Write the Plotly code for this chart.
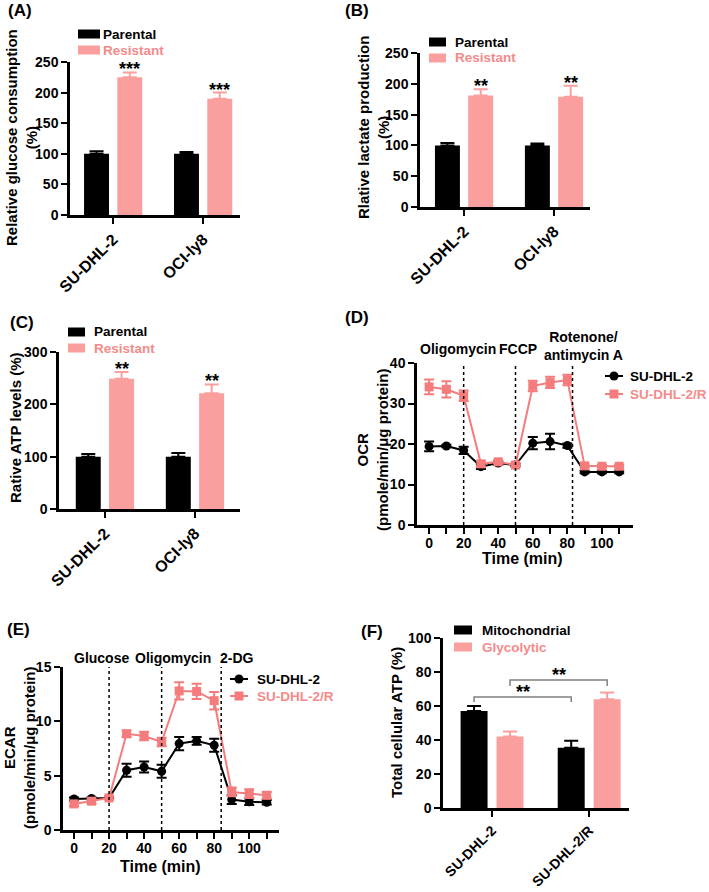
import plotly.graph_objects as go

W, H = 709, 892
def fx(p): return p / W
def fy(p): return 1 - p / H

# ---------------- data ----------------
cells = ["SU-DHL-2", "OCI-ly8"]
glucose_par = [100, 100]; glucose_par_err = [4, 3]
glucose_res = [225, 190]; glucose_res_err = [8, 10]
lactate_par = [100, 100]; lactate_par_err = [4, 3]
lactate_res = [181, 179]; lactate_res_err = [10, 18]
atp_par = [100, 100]; atp_par_err = [5, 7]
atp_res = [249, 221]; atp_res_err = [13, 17]
stars_A = ["***", "***"]; stars_B = ["**", "**"]; stars_C = ["**", "**"]

time = [0, 10, 20, 30, 40, 50, 60, 70, 80, 90, 100, 110]
ocr_wt = [19.4, 19.5, 18.4, 14.4, 15.3, 14.8, 20.2, 20.6, 19.6, 13.1, 13.1, 13.1]
ocr_wt_err = [1.2, 0.3, 0.9, 0.6, 0.4, 0.3, 1.5, 1.9, 0.5, 0.3, 0.3, 0.3]
ocr_r = [34.1, 33.5, 31.9, 15.1, 15.6, 14.8, 34.3, 35.2, 35.8, 14.6, 14.5, 14.5]
ocr_r_err = [1.8, 2.0, 1.3, 0.7, 0.4, 0.5, 1.3, 1.4, 1.3, 0.4, 0.3, 0.3]
ocr_injections = [20, 50, 83]
ocr_labels = ["Oligomycin", "FCCP", "Rotenone/<br>antimycin A"]

ecar_wt = [2.85, 2.9, 2.95, 5.5, 5.8, 5.4, 7.95, 8.2, 7.8, 2.8, 2.6, 2.55]
ecar_wt_err = [0.15, 0.1, 0.1, 0.6, 0.5, 0.6, 0.6, 0.35, 0.6, 0.4, 0.3, 0.2]
ecar_r = [2.4, 2.65, 2.95, 8.85, 8.65, 8.1, 12.8, 12.75, 11.9, 3.5, 3.35, 3.2]
ecar_r_err = [0.2, 0.2, 0.15, 0.3, 0.4, 0.4, 0.8, 0.7, 0.8, 0.4, 0.4, 0.3]
ecar_injections = [20, 50, 84]
ecar_labels = ["Glucose", "Oligomycin", "2-DG"]

atp_groups = ["SU-DHL-2", "SU-DHL-2/R"]
mito = [57, 35.5]; mito_err = [3, 4]
glyco = [42, 64]; glyco_err = [3, 4]

# ---------------- style ----------------
BLACK = "#000000"
PINK_BAR = "#FA9E9E"
PINK_TXT = "#F58A8A"
PINK_LINE = "#F47C7C"
FONT = "Liberation Sans, Arial, sans-serif"
BARGAP, BARGROUPGAP = 0.26, 0.25
SLOT = (1 - BARGAP) / 2
OFF = SLOT / 2

def bfont(size, color=BLACK):
    return dict(family=FONT, size=size, color=color, weight="bold")

fig = go.Figure()

def add_bar_panel(n, cats, par, par_err, res, res_err, name1, name2):
    xa = f"x{n}" if n > 1 else "x"
    ya = f"y{n}" if n > 1 else "y"
    fig.add_trace(go.Bar(x=cats, y=par, name=name1, marker=dict(color=BLACK, line=dict(width=0)),
                         error_y=dict(type="data", array=par_err, arrayminus=[0]*len(par), symmetric=False,
                                      color=BLACK, thickness=2, width=7),
                         xaxis=xa, yaxis=ya, showlegend=False))
    fig.add_trace(go.Bar(x=cats, y=res, name=name2, marker=dict(color=PINK_BAR, line=dict(width=0)),
                         error_y=dict(type="data", array=res_err, arrayminus=[0]*len(res), symmetric=False,
                                      color=PINK_BAR, thickness=2, width=7),
                         xaxis=xa, yaxis=ya, showlegend=False))

add_bar_panel(1, cells, glucose_par, glucose_par_err, glucose_res, glucose_res_err, "Parental", "Resistant")
add_bar_panel(2, cells, lactate_par, lactate_par_err, lactate_res, lactate_res_err, "Parental", "Resistant")
add_bar_panel(3, cells, atp_par, atp_par_err, atp_res, atp_res_err, "Parental", "Resistant")
add_bar_panel(6, atp_groups, mito, mito_err, glyco, glyco_err, "Mitochondrial", "Glycolytic")

def add_line_panel(n, t, wt, wt_err, r, r_err):
    fig.add_trace(go.Scatter(x=t, y=wt, mode="lines+markers", name="SU-DHL-2",
                             line=dict(color=BLACK, width=2), marker=dict(symbol="circle", size=9, color=BLACK),
                             error_y=dict(type="data", array=wt_err, color=BLACK, thickness=2, width=5),
                             xaxis=f"x{n}", yaxis=f"y{n}", showlegend=False))
    fig.add_trace(go.Scatter(x=t, y=r, mode="lines+markers", name="SU-DHL-2/R",
                             line=dict(color=PINK_LINE, width=2), marker=dict(symbol="square", size=9, color=PINK_LINE),
                             error_y=dict(type="data", array=r_err, color=PINK_LINE, thickness=2, width=5),
                             xaxis=f"x{n}", yaxis=f"y{n}", showlegend=False))

add_line_panel(4, time, ocr_wt, ocr_wt_err, ocr_r, ocr_r_err)
add_line_panel(5, time, ecar_wt, ecar_wt_err, ecar_r, ecar_r_err)

# ---------------- axes ----------------
tickfont = bfont(14)
catfont = bfont(16)

def ax_common():
    return dict(showline=True, linewidth=2.5, linecolor=BLACK, ticks="outside", ticklen=6,
                tickwidth=2, tickcolor=BLACK, showgrid=False, zeroline=False, tickfont=tickfont,
                automargin=False)

panels = {
    # n: (x0, x1, ytop, ybot) in pixels
    1: (70, 240, 62, 215),
    2: (420, 590, 53, 207),
    3: (59, 240, 352, 509),
    4: (417, 633, 363, 525),
    5: (63, 279, 667, 830),
    6: (443, 629, 638, 808),
}
xranges = {1: [-0.48, 1.41], 2: [-0.49, 1.4], 3: [-0.51, 1.5], 4: [-7, 118], 5: [-6.3, 117], 6: [-0.505, 1.41]}
yranges = {1: [0, 250], 2: [0, 250], 3: [0, 300], 4: [0, 40], 5: [0, 15], 6: [0, 100]}
ydticks = {1: 50, 2: 50, 3: 100, 4: 10, 5: 5, 6: 20}

layout = {}
for n, (x0, x1, yt, yb) in panels.items():
    kx = "xaxis" if n == 1 else f"xaxis{n}"
    ky = "yaxis" if n == 1 else f"yaxis{n}"
    xa = ax_common()
    xa.update(domain=[fx(x0), fx(x1)], range=xranges[n], anchor="y" if n == 1 else f"y{n}")
    if n in (4, 5):
        xa.update(tickvals=time, ticktext=[str(t) if t % 20 == 0 else "" for t in time],
                  ticklabelstandoff=-3)
    else:
        xa.update(type="category", tickangle=-45, tickfont=catfont if n != 6 else bfont(14))
    ya = ax_common()
    ya.update(domain=[fy(yb), fy(yt)], range=yranges[n], dtick=ydticks[n],
              anchor="x" if n == 1 else f"x{n}")
    layout[kx] = xa
    layout[ky] = ya

fig.update_layout(**layout)

# ---------------- annotations / shapes ----------------
ann = []
shapes = []

def txt(text, x, y, size, color=BLACK, xanchor="center", yanchor="middle", angle=0):
    ann.append(dict(text=text, x=fx(x), y=fy(y), xref="paper", yref="paper", xanchor=xanchor,
                    yanchor=yanchor, showarrow=False, textangle=angle, font=bfont(size, color),
                    align="center"))

# panel labels
for lbl, (px_, py_) in {"(A)": (6, 10), "(B)": (343, 10), "(C)": (8, 322), "(D)": (343, 317),
                         "(E)": (5, 629), "(F)": (359, 631)}.items():
    txt(lbl, px_, py_, 17, xanchor="left")

# axis titles
ytitles = [
    ("Relative glucose consumption<br>(%)", 21, 138),
    ("Rlative lactate production<br>(%)", 373, 127),
    ("Rative ATP levels (%)", 15, 428),
    ("OCR<br>(pmole/min/μg protein)", 372, 450),
    ("ECAR<br>(pmole/min/μg protein)", 19, 748),
    ("Total cellular ATP (%)", 396, 723),
]
for t, x, y in ytitles:
    txt(t, x, y, 15, angle=-90)
txt("Time (min)", 522, 558, 16)
txt("Time (min)", 160, 866, 16)

# legends (drawn as key swatches + labels)
def bar_key(x0, x1, ytxt, xt, color, label, tcolor):
    shapes.append(dict(type="rect", xref="paper", yref="paper", x0=fx(x0), x1=fx(x1),
                       y0=fy(ytxt + 4.5), y1=fy(ytxt - 4.5), fillcolor=color, line=dict(width=0)))
    txt(label, xt - 2, ytxt, 13.5, tcolor, xanchor="left")

for (kx0, kx1, tx, y1, y2, l1, l2) in [
        (78, 100, 103, 34, 50, "Parental", "Resistant"),
        (429, 446, 455, 42, 58, "Parental", "Resistant"),
        (68, 85, 94, 332, 348, "Parental", "Resistant"),
        (454, 472, 482, 630, 647, "Mitochondrial", "Glycolytic")]:
    bar_key(kx0, kx1, y1, tx, BLACK, l1, BLACK)
    bar_key(kx0, kx1, y2, tx, PINK_BAR, l2, PINK_TXT)

def line_key(x0, x1, y, xt, color, symbol, label, tcolor):
    shapes.append(dict(type="line", xref="paper", yref="paper", x0=fx(x0), x1=fx(x1), y0=fy(y), y1=fy(y),
                       line=dict(color=color, width=2)))
    cx = (x0 + x1) / 2
    r = 4.5
    shapes.append(dict(type="circle" if symbol == "circle" else "rect", xref="paper", yref="paper",
                       x0=fx(cx - r), x1=fx(cx + r), y0=fy(y + r), y1=fy(y - r),
                       fillcolor=color, line=dict(width=0)))
    txt(label, xt - 2, y, 13.5, tcolor, xanchor="left")

for (kx0, kx1, tx, y1, y2) in [(605, 623, 630, 376, 394), (230, 248, 257, 679, 696)]:
    line_key(kx0, kx1, y1, tx, BLACK, "circle", "SU-DHL-2", BLACK)
    line_key(kx0, kx1, y2, tx, PINK_LINE, "square", "SU-DHL-2/R", PINK_TXT)

# significance stars
def add_stars(n, vals, errs, stars):
    for i, (v, e, s) in enumerate(zip(vals, errs, stars)):
        ann.append(dict(text=s, x=i + OFF, y=v + e, xref=f"x{n}" if n > 1 else "x",
                        yref=f"y{n}" if n > 1 else "y", xanchor="center", yanchor="bottom",
                        showarrow=False, yshift=-9, font=bfont(18)))

add_stars(1, glucose_res, glucose_res_err, stars_A)
add_stars(2, lactate_res, lactate_res_err, stars_B)
add_stars(3, atp_res, atp_res_err, stars_C)

# injection labels
for lbl, px_, py_ in zip(ocr_labels, [458, 518, 583], [349, 349, 346]):
    txt(lbl, px_, py_, 14)
for lbl, px_ in zip(ecar_labels, [101, 173, 237]):
    txt(lbl, px_, 658, 14)

# F significance brackets
GRAY = "#808080"
brackets = [(-OFF, 1 - OFF, 65.3, 62.4), (OFF, 1 + OFF, 75.3, 71.8)]
for x0, x1, ytop, ydrop in brackets:
    shapes.append(dict(type="path", xref="x6", yref="y6",
                       path=f"M {x0},{ydrop} L {x0},{ytop} L {x1},{ytop} L {x1},{ydrop}",
                       line=dict(color=GRAY, width=1.5)))
    ann.append(dict(text="**", x=(x0 + x1) / 2, y=ytop, xref="x6", yref="y6", xanchor="center",
                    yanchor="bottom", showarrow=False, yshift=-7, font=bfont(18)))

# injection dotted lines
for n, injs in ((4, ocr_injections), (5, ecar_injections)):
    for t in injs:
        shapes.append(dict(type="line", xref=f"x{n}", yref=f"y{n} domain", x0=t, x1=t, y0=0, y1=1,
                           line=dict(color=BLACK, width=1.5, dash="dot")))

fig.update_layout(template="none", annotations=ann, shapes=shapes, barmode="group", bargap=BARGAP,
                  bargroupgap=BARGROUPGAP, showlegend=False,
                  width=W, height=H, margin=dict(l=0, r=0, t=0, b=0), plot_bgcolor="white",
                  paper_bgcolor="white", font=dict(family=FONT, color=BLACK))

fig.write_html("out.html", config={"displayModeBar": False},
               post_script="document.body.style.margin='0';document.body.style.overflow='hidden';")
